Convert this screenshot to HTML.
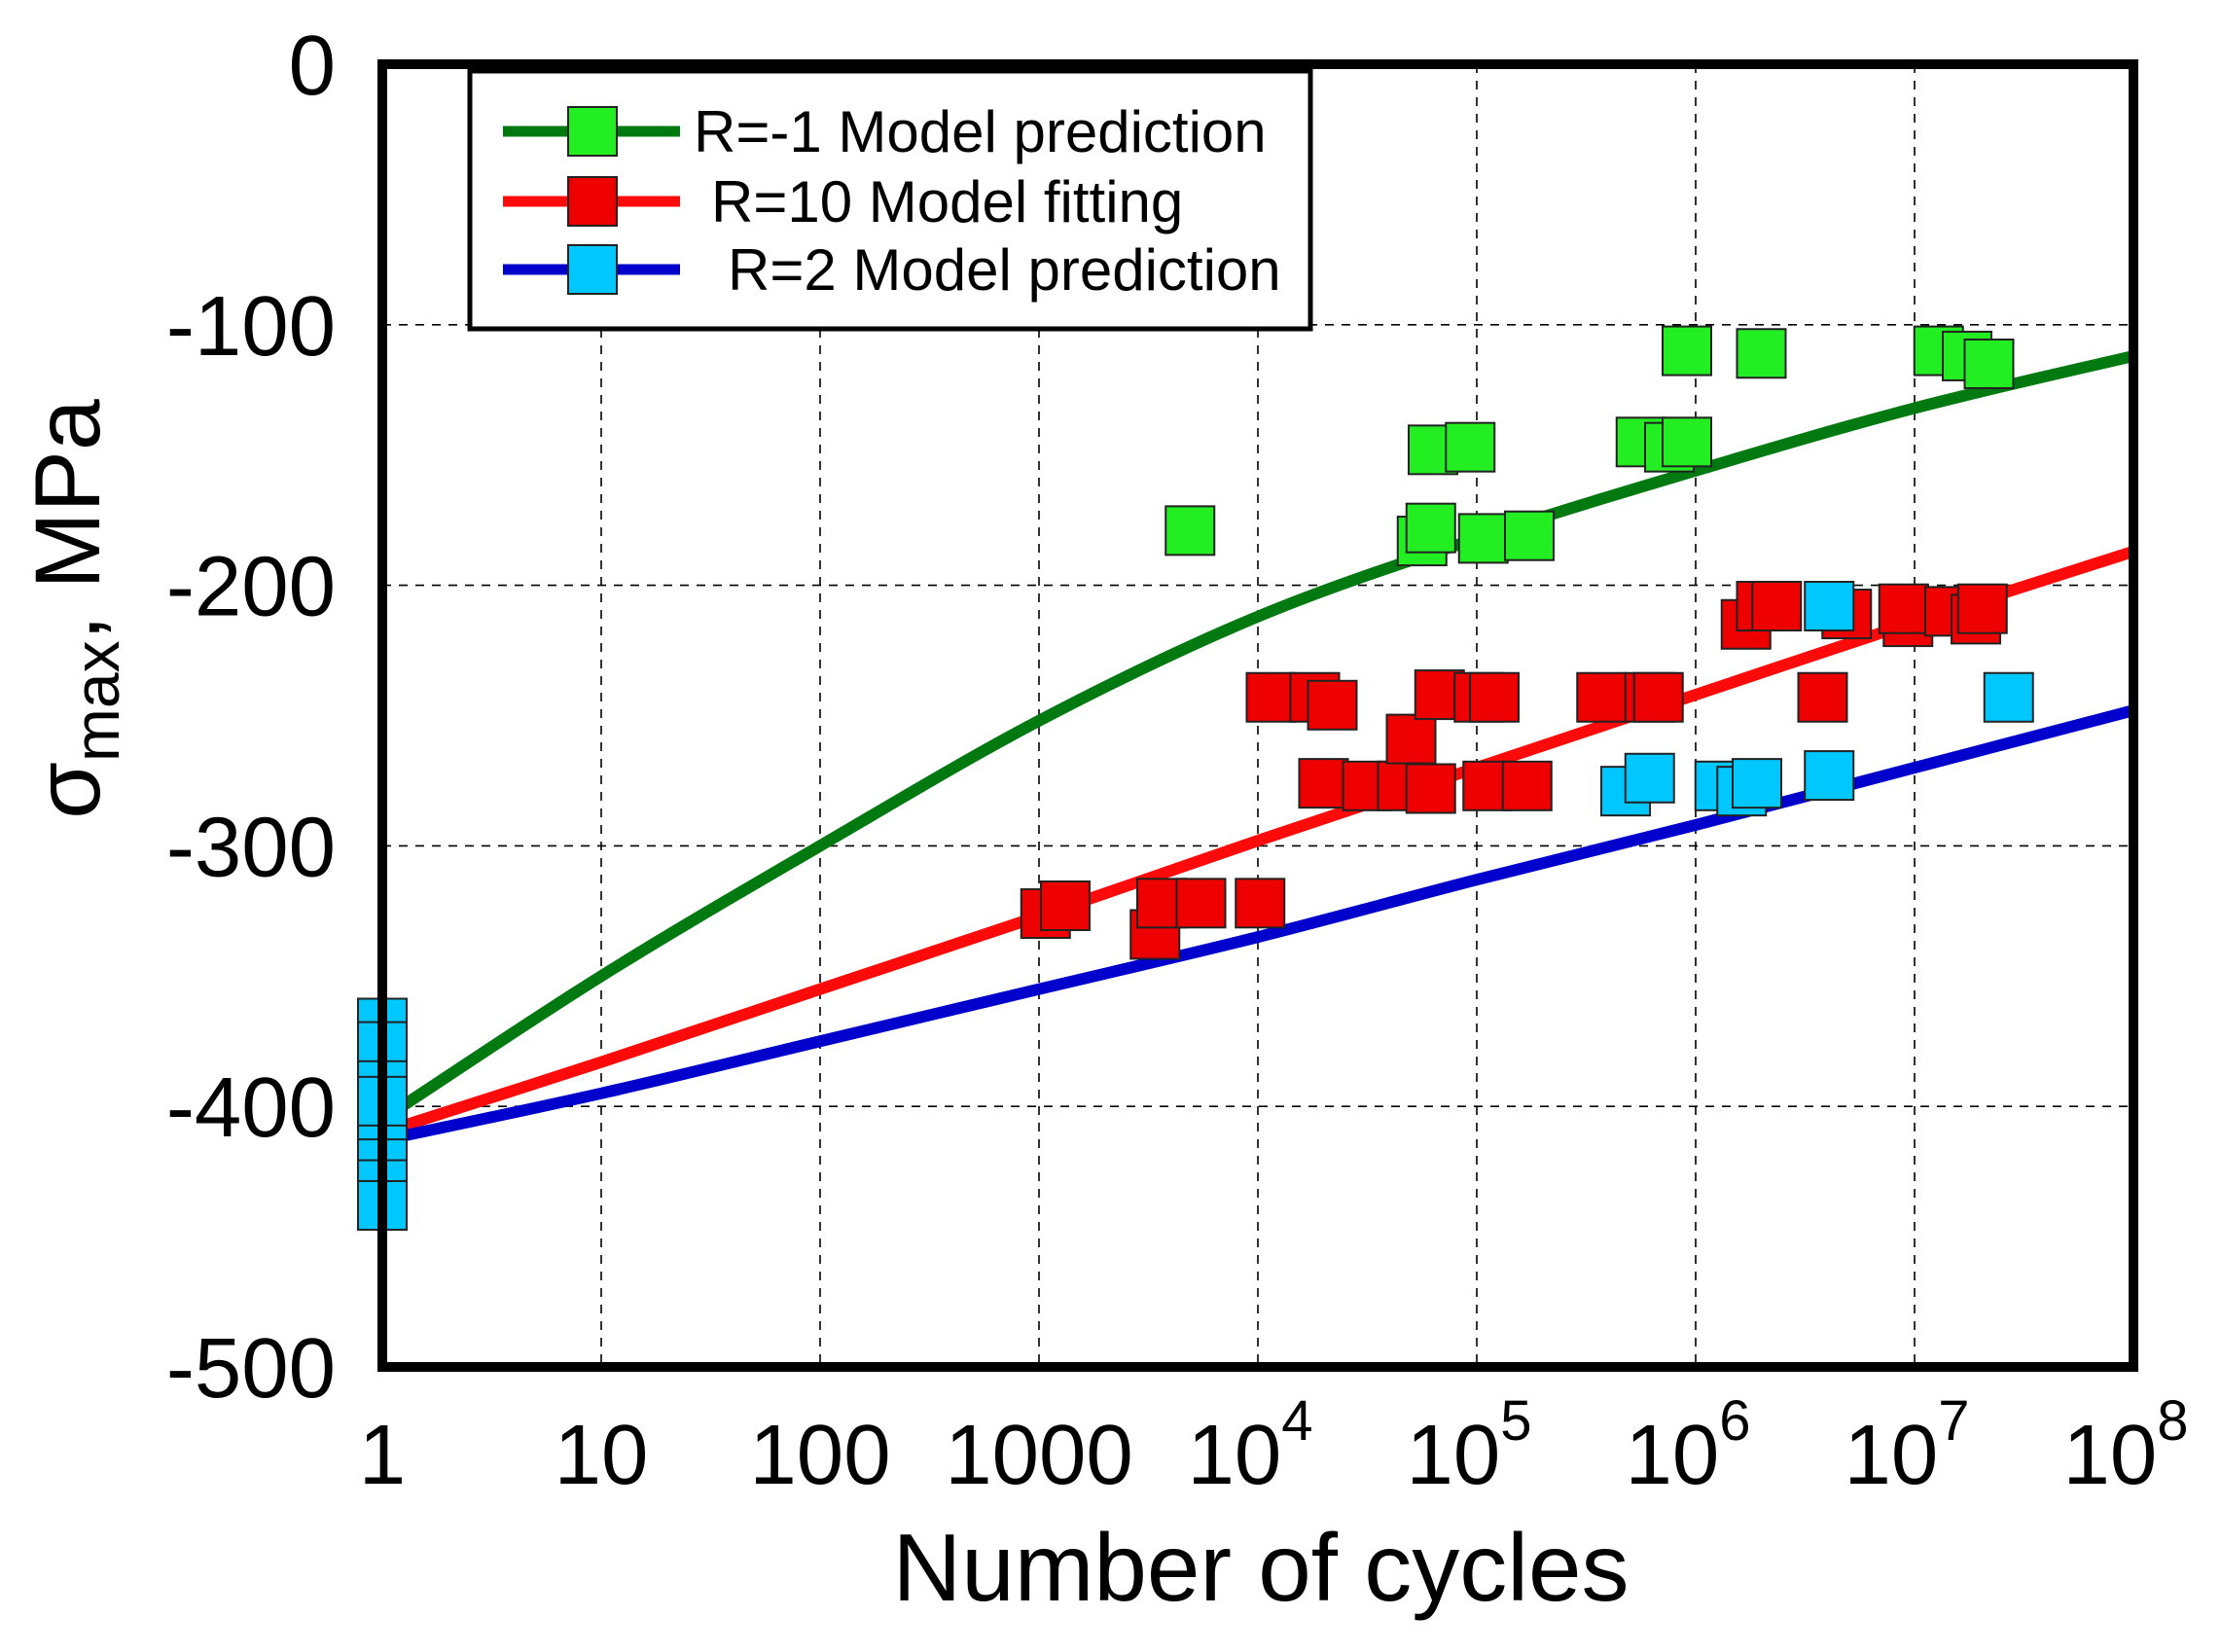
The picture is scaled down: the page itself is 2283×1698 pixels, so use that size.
<!DOCTYPE html>
<html><head><meta charset="utf-8"><style>
html,body{margin:0;padding:0;background:#fff;}
svg{display:block;font-family:"Liberation Sans",Arial,sans-serif;}
</style></head><body>
<svg id="chart" width="2283" height="1698" viewBox="0 0 2283 1698" xmlns="http://www.w3.org/2000/svg"></svg>
<script>
const xDecades = [0,1,2,3,4,5,6,7,8];
const xTickBase = ["1","10","100","1000","10","10","10","10","10"];
const xTickExp = ["","","","","4","5","6","7","8"];
const yTicks = [0,-100,-200,-300,-400,-500];
const yTickLabels = ["0","-100","-200","-300","-400","-500"];
const greenCurve = [-405,-350,-300,-252,-212,-182,-156,-132,-112];
const redCurve = [-410,-383,-355,-327,-298,-270,-242,-214,-187];
const blueCurve = [-413,-395,-375,-355,-335,-313,-292,-270,-248];
const greenLogN = [3.69,4.75,4.79,4.80,4.97,5.03,5.24,5.75,5.88,5.96,5.96,6.30,7.11,7.24,7.34];
const greenVal = [-179,-183,-178,-148,-147,-182,-181,-145,-147,-145,-110,-111,-110,-112,-115];
const redLogN = [3.03,3.12,3.53,3.56,3.74,4.01,4.06,4.26,4.34,4.30,4.50,4.66,4.70,4.79,4.83,5.01,5.08,5.05,5.23,5.57,5.79,5.83,6.23,6.30,6.37,6.69,6.58,6.97,6.95,7.16,7.28,7.31];
const redVal = [-326,-323,-334,-322,-322,-322,-243,-243,-246,-276,-277,-277,-259,-278,-242,-243,-243,-277,-277,-243,-243,-243,-215,-208,-208,-211,-243,-214,-209,-210,-213,-209];
const blueLogN = [0,0,0,0,0,0,0,0,0,5.68,5.79,6.11,6.21,6.28,6.61,6.61,7.43];
const blueVal = [-368,-377,-392,-404,-414,-422,-430,-438,-398,-279,-274,-277,-279,-276,-208,-273,-243];

const L=393,R=2193,T=66,B=1405;
const xs=d=>L+(R-L)*d/8;
const ys=v=>T+(B-T)*(-v)/500;
const svg=document.getElementById('chart');
const NS='http://www.w3.org/2000/svg';
function mk(tag,attrs,parent){const e=document.createElementNS(NS,tag);for(const k in attrs)e.setAttribute(k,attrs[k]);(parent||svg).appendChild(e);return e;}

const grid=mk('g',{});


xDecades.slice(1,8).forEach(d=>{const l=mk('line',{x1:xs(d),x2:xs(d),y1:T,y2:B,stroke:'#000','stroke-width':1.6,'stroke-dasharray':'9 8'},grid);

});
yTicks.slice(1,5).forEach(v=>{const l=mk('line',{x1:L,x2:R,y1:ys(v),y2:ys(v),stroke:'#000','stroke-width':1.6,'stroke-dasharray':'9 8'},grid);

});

function curve(vals,color,name){
  const pts=vals.map((v,i)=>[xs(xDecades[i]),ys(v)]);
  let d='M'+pts[0][0]+','+pts[0][1];
  for(let i=0;i<pts.length-1;i++){
    const p0=pts[Math.max(i-1,0)],p1=pts[i],p2=pts[i+1],p3=pts[Math.min(i+2,pts.length-1)];
    const c1=[p1[0]+(p2[0]-p0[0])/6,p1[1]+(p2[1]-p0[1])/6];
    const c2=[p2[0]-(p3[0]-p1[0])/6,p2[1]-(p3[1]-p1[1])/6];
    d+=' C'+c1+' '+c2+' '+p2;
  }
  const p=mk('path',{d:d,fill:'none',stroke:color,'stroke-width':12});
  
  
}
curve(greenCurve,'#007a10','r-1-model-curve');
curve(redCurve,'#ff0a0a','r10-model-curve');
curve(blueCurve,'#0000cc','r2-model-curve');

const S=50;
function markers(ln,vals,color,name){
  const g=mk('g',{});
  
  
  ln.forEach((d,i)=>{const r=mk('rect',{x:xs(d)-S/2,y:ys(vals[i])-S/2,width:S,height:S,fill:color,stroke:'#222','stroke-width':2},g);
  
  });
}
markers(greenLogN,greenVal,'#22ee22','r-1-data-points');
markers(redLogN,redVal,'#ee0000','r10-data-points');
markers(blueLogN,blueVal,'#00c8ff','r2-data-points');

const fr=mk('rect',{x:L,y:T,width:R-L,height:B-T,fill:'none',stroke:'#000','stroke-width':10});



yTicks.forEach((v,i)=>{const t=mk('text',{x:345,y:ys(v)+31,'font-size':87,'text-anchor':'end',fill:'#000'});t.textContent=yTickLabels[i];

});
xDecades.forEach((d,i)=>{const t=mk('text',{x:xs(d)+(xTickExp[i]?-8:0),y:1525,'font-size':87,'text-anchor':'middle',fill:'#000'});t.textContent=xTickBase[i];


if(xTickExp[i]){const ts=mk('tspan',{'font-size':58,dy:-45},t);ts.textContent=xTickExp[i];}});

const xt=mk('text',{x:1296,y:1645,'font-size':98,'text-anchor':'middle',fill:'#000'});xt.textContent='Number of cycles';


const yt=mk('text',{transform:'translate(102,626) rotate(-90)','font-size':95,'text-anchor':'middle',fill:'#000'});


yt.innerHTML='σ<tspan font-size="66" dy="20">max</tspan><tspan dy="-20">, MPa</tspan>';

const lg=mk('g',{});


mk('rect',{x:483,y:73,width:864,height:265,fill:'#fff',stroke:'#000','stroke-width':5},lg);
const entries=[['R=-1 Model prediction','#007a10','#22ee22',135,713],['R=10 Model fitting','#ff0a0a','#ee0000',207,731],['R=2 Model prediction','#0000cc','#00c8ff',277,748]];
entries.forEach(e=>{
  const g=mk('g',{},lg);
  
  
  mk('line',{x1:517,x2:699,y1:e[3],y2:e[3],stroke:e[1],'stroke-width':11},g);
  mk('rect',{x:584,y:e[3]-25,width:50,height:50,fill:e[2],stroke:'#222','stroke-width':2},g);
  const t=mk('text',{x:e[4],y:e[3]+21,'font-size':60,fill:'#000'},g);t.textContent=e[0];
});
</script>
</body></html>
